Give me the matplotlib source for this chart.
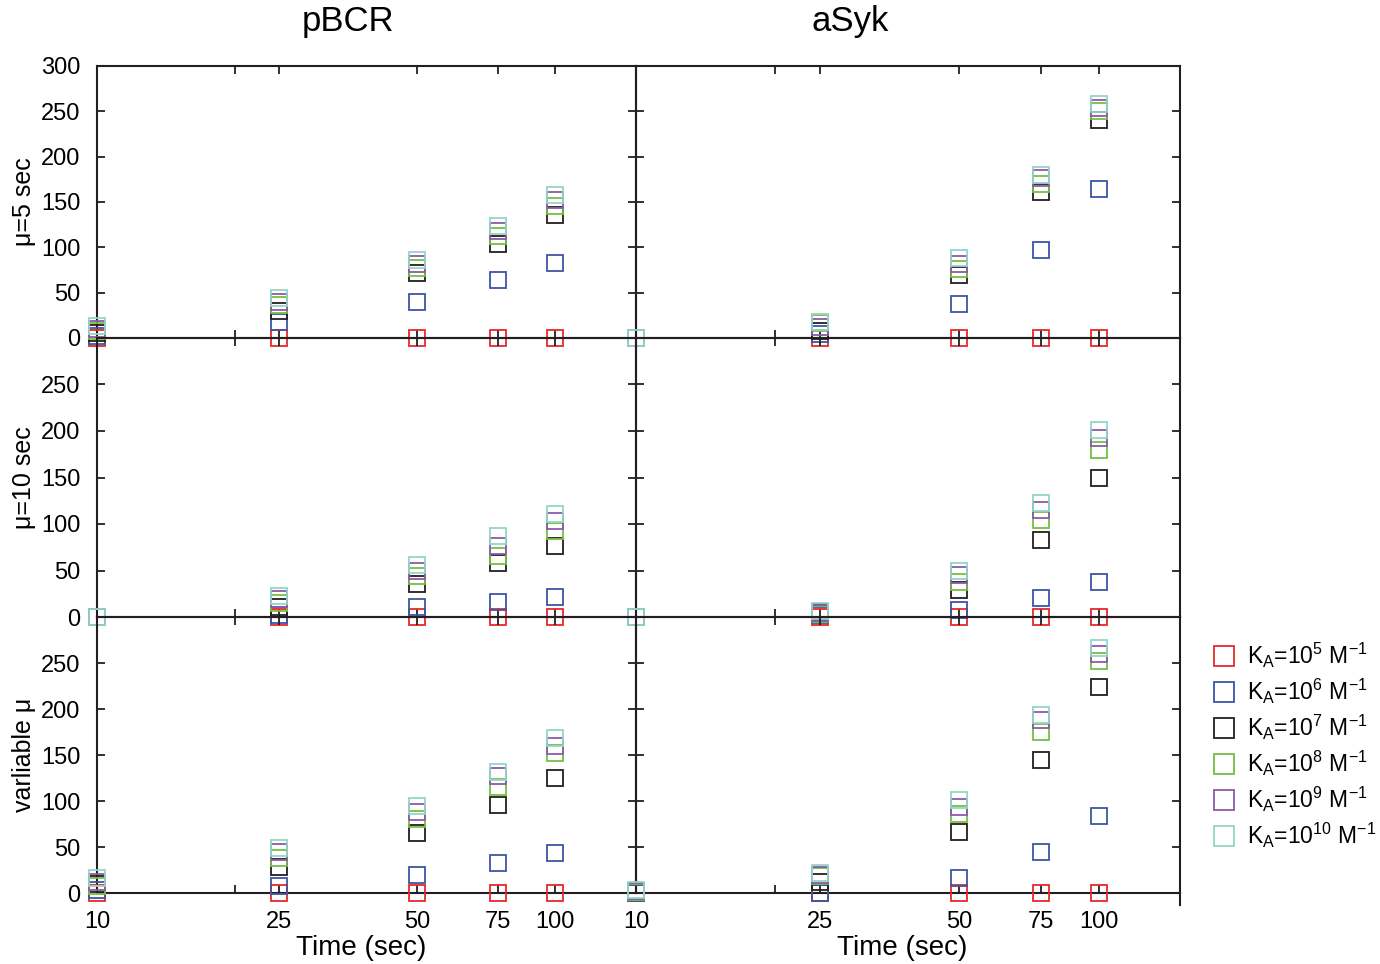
import matplotlib
matplotlib.use('Agg')
import matplotlib.pyplot as plt
from matplotlib.ticker import FixedLocator, NullLocator, FixedFormatter

plt.rcParams['font.family'] = ['Liberation Sans', 'DejaVu Sans']
plt.rcParams['mathtext.fontset'] = 'custom'
plt.rcParams['mathtext.rm'] = 'Liberation Sans'

# data
times = [10, 25, 50, 75, 100]
ka_labels = [r'K$_\mathregular{A}$=10$^\mathregular{5}$ M$^\mathregular{-1}$',
             r'K$_\mathregular{A}$=10$^\mathregular{6}$ M$^\mathregular{-1}$',
             r'K$_\mathregular{A}$=10$^\mathregular{7}$ M$^\mathregular{-1}$',
             r'K$_\mathregular{A}$=10$^\mathregular{8}$ M$^\mathregular{-1}$',
             r'K$_\mathregular{A}$=10$^\mathregular{9}$ M$^\mathregular{-1}$',
             r'K$_\mathregular{A}$=10$^\mathregular{10}$ M$^\mathregular{-1}$']
colors = ['#e8262b', '#3d55a5', '#231f20', '#74c043', '#8c5aa8', '#93d5c8']

# rows: KA = 1e5 .. 1e10
pbcr_mu5 = [[0, 0, 0, 0, 0],
            [2, 18, 40, 64, 83],
            [6, 30, 72, 104, 136],
            [8, 36, 77, 112, 146],
            [10, 40, 82, 118, 152],
            [13, 44, 86, 123, 158]]
asyk_mu5 = [[0, 0, 0, 0, 0],
            [0, 4, 38, 97, 164],
            [0, 8, 70, 161, 240],
            [0, 16, 76, 170, 250],
            [0, 12, 82, 176, 254],
            [0, 18, 88, 180, 258]]
pbcr_mu10 = [[0, 0, 0, 0, 0],
             [0, 2, 11, 16, 22],
             [0, 11, 36, 58, 76],
             [0, 15, 44, 66, 92],
             [0, 19, 50, 76, 103],
             [0, 23, 56, 87, 111]]
asyk_mu10 = [[0, 0, 0, 0, 0],
             [0, 2, 8, 20, 38],
             [0, 5, 29, 83, 150],
             [0, 3, 38, 104, 180],
             [0, 4, 45, 115, 192],
             [0, 6, 50, 123, 201]]
pbcr_var = [[0, 0, 0, 0, 0],
            [3, 8, 20, 33, 43],
            [10, 28, 65, 96, 125],
            [8, 38, 80, 115, 152],
            [12, 45, 88, 127, 160],
            [16, 49, 95, 132, 168]]
asyk_var = [[0, 0, 0, 0, 0],
            [0, 0, 16, 45, 84],
            [2, 12, 66, 145, 224],
            [1, 18, 86, 175, 252],
            [2, 20, 93, 188, 260],
            [3, 22, 101, 193, 266]]

panels = [[pbcr_mu5, asyk_mu5], [pbcr_mu10, asyk_mu10], [pbcr_var, asyk_var]]
row_labels = [u'\u03bc=5 sec', u'\u03bc=10 sec', u'varliable \u03bc']
col_titles = ['pBCR', 'aSyk']

fig = plt.figure(figsize=(13.8, 9.64), dpi=100)
W, H = 1380.0, 964.0
col_x = [97, 636, 1180]
row_y = [66, 338, 617, 893]
edge = '#231f20'

axes = []
for r in range(3):
    for c in range(2):
        x0 = col_x[c] / W
        w = (col_x[c + 1] - col_x[c]) / W
        y0 = 1 - row_y[r + 1] / H
        h = (row_y[r + 1] - row_y[r]) / H
        ax = fig.add_axes([x0, y0, w, h])
        ax.patch.set_alpha(0)
        for i, series in enumerate(panels[r][c]):
            ax.plot(times, series, linestyle='none', marker='s', markersize=11,
                    markerfacecolor='none', markeredgecolor=colors[i],
                    markeredgewidth=1.3, clip_on=False, zorder=3,
                    label=ka_labels[i])
        ax.set_xscale('log')
        ax.set_xlim(10, 150)
        ax.set_ylim(0, 300)
        ax.xaxis.set_major_locator(FixedLocator([10, 20, 25, 50, 75, 100]))
        ax.xaxis.set_minor_locator(NullLocator())
        if r == 2:
            ax.xaxis.set_major_formatter(FixedFormatter(['10', '', '25', '50', '75', '100']))
        else:
            ax.set_xticklabels([])
        if r == 0:
            ax.set_yticks([0, 50, 100, 150, 200, 250, 300])
        else:
            ax.set_yticks([0, 50, 100, 150, 200, 250])
        if c == 0:
            ax.set_ylabel(row_labels[r], fontsize=18)
            ax.yaxis.set_label_coords(-0.113, 0.5)
        else:
            ax.set_yticklabels([])
        ax.tick_params(direction='in', top=True, right=True, length=6,
                       width=1.3, color=edge, labelsize=17)
        ax.tick_params(axis='y', pad=12)
        ax.tick_params(axis='x', pad=13)
        for s in ax.spines.values():
            s.set_linewidth(1.5)
            s.set_color(edge)
        axes.append(ax)

# column titles and x labels
fig.text(348 / W, 1 - 22 / H, col_titles[0], fontsize=25, ha='center', va='center')
fig.text(850 / W, 1 - 22 / H, col_titles[1], fontsize=25, ha='center', va='center')
fig.text(361 / W, 1 - 948 / H, 'Time (sec)', fontsize=20, ha='center', va='center')
fig.text(902 / W, 1 - 948 / H, 'Time (sec)', fontsize=20, ha='center', va='center')

# right spine of the last panel runs a little below the zero line
axes[-1].plot([1, 1], [0, -0.045], transform=axes[-1].transAxes,
              color=edge, linewidth=1.5, clip_on=False)

handles, labels = axes[0].get_legend_handles_labels()
fig.legend(handles, labels, loc='upper left', bbox_to_anchor=(1192 / W, 1 - 620 / H),
           frameon=False, fontsize=16.5, markerscale=1.35, handlelength=1.0,
           handletextpad=0.5, labelspacing=0.3)

fig.savefig('out.png', dpi=100)
